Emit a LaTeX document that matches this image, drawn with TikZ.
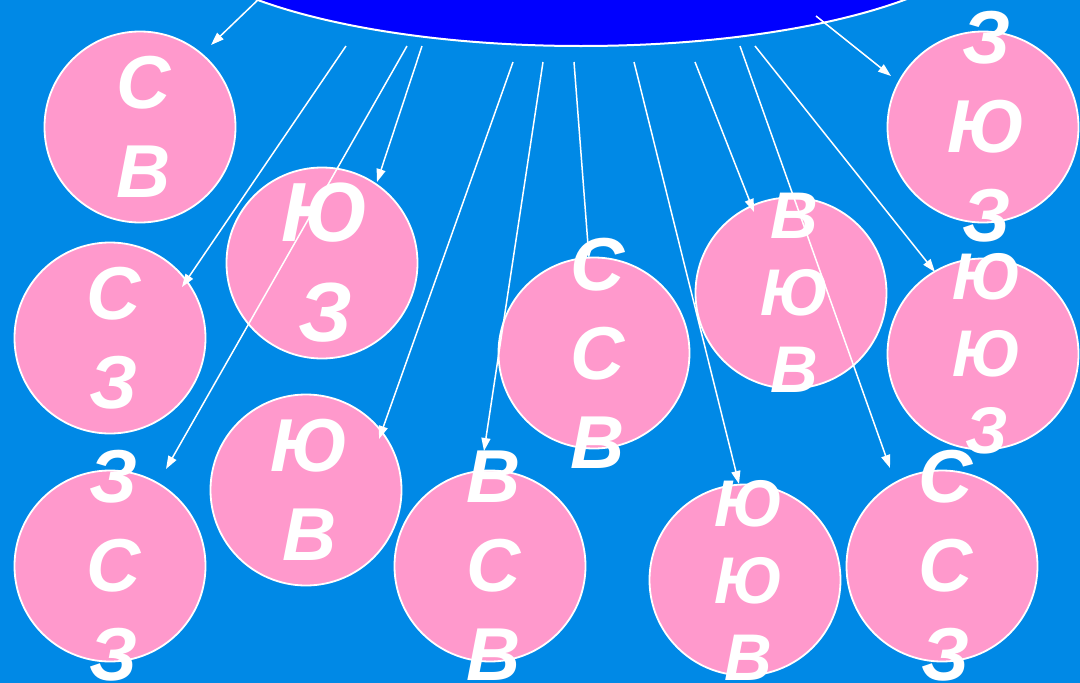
\documentclass[tikz,border=0pt]{standalone}
\usepackage{fontspec}
\setmainfont{Liberation Sans}
\usetikzlibrary{arrows.meta,shapes.geometric}
\definecolor{bgblue}{RGB}{0,137,230}
\definecolor{discpink}{RGB}{255,153,204}
\definecolor{capblue}{RGB}{0,0,255}
\begin{document}
\begin{tikzpicture}[x=1pt,y=-1pt,
  discnode/.style={circle,draw=white,line width=1.8pt,fill=discpink,minimum size=191pt,inner sep=0pt},
  capnode/.style={ellipse,draw=white,line width=2pt,fill=capblue,minimum width=834pt,minimum height=250pt,inner sep=0pt},
  letbase/.style={text=white,align=center,inner sep=0pt,xshift=3.5pt},
  letN/.style={letbase,font=\fontsize{75}{89}\selectfont\bfseries\itshape},
  letS/.style={letbase,font=\fontsize{66}{77}\selectfont\bfseries\itshape},
  letL/.style={letbase,font=\fontsize{84}{100}\selectfont\bfseries\itshape},
  ray/.style={draw=white,line width=1.5pt,-{Triangle[length=13pt,width=9pt]}}
]
\useasboundingbox (0,0) rectangle (1080,683);
\clip (0,0) rectangle (1080,683);
\fill[bgblue] (0,0) rectangle (1080,683);
\node[capnode] (cap) at (581,-79) {};

% discs
\node[discnode] (c1) at (140,127) {};
\node[discnode] (c2) at (322,263) {};
\node[discnode] (c3) at (110,338) {};
\node[discnode] (c4) at (110,566) {};
\node[discnode] (c5) at (306,490) {};
\node[discnode] (c6) at (490,566) {};
\node[discnode] (c7) at (594,353) {};
\node[discnode] (c8) at (791,293) {};
\node[discnode] (c9) at (745,580) {};
\node[discnode] (c10) at (983,127) {};
\node[discnode] (c11) at (983,354) {};
\node[discnode] (c12) at (942,566) {};

% ray ends
\coordinate (s1) at (262,-4);  \coordinate (t1) at (211,45);
\coordinate (s2) at (346,46);  \coordinate (t2) at (182,287);
\coordinate (s3) at (407,46);  \coordinate (t3) at (166,469);
\coordinate (s4) at (422,46);  \coordinate (t4) at (377,182);
\coordinate (s5) at (513,62);  \coordinate (t5) at (379,439);
\coordinate (s6) at (543,62);  \coordinate (t6) at (484,451);
\coordinate (s7) at (574,62);  \coordinate (t7) at (589,258);
\coordinate (s8) at (634,62);  \coordinate (t8) at (739,484);
\coordinate (s9) at (695,62);  \coordinate (t9) at (754,212);
\coordinate (s10) at (740,46); \coordinate (t10) at (890,468);
\coordinate (s11) at (755,46); \coordinate (t11) at (935,272);
\coordinate (s12) at (816,16); \coordinate (t12) at (891,76);

\foreach \i in {1,...,12}{\draw[ray] (s\i) -- (t\i);}

% letters
\node[letN] (l1) at (c1.center) {С\\В};
\node[letL] (l2) at (c2.center) {Ю\\З};
\node[letN] (l3) at (c3.center) {С\\З};
\node[letN] (l4) at (c4.center) {З\\С\\З};
\node[letN] (l5) at (c5.center) {Ю\\В};
\node[letN] (l6) at (c6.center) {В\\С\\В};
\node[letN] (l7) at (c7.center) {С\\С\\В};
\node[letS] (l8) at (c8.center) {В\\Ю\\В};
\node[letS] (l9) at (c9.center) {Ю\\Ю\\В};
\node[letN] (l10) at (c10.center) {З\\Ю\\З};
\node[letS] (l11) at (c11.center) {Ю\\Ю\\З};
\node[letN] (l12) at (c12.center) {С\\С\\З};
\end{tikzpicture}
\end{document}
